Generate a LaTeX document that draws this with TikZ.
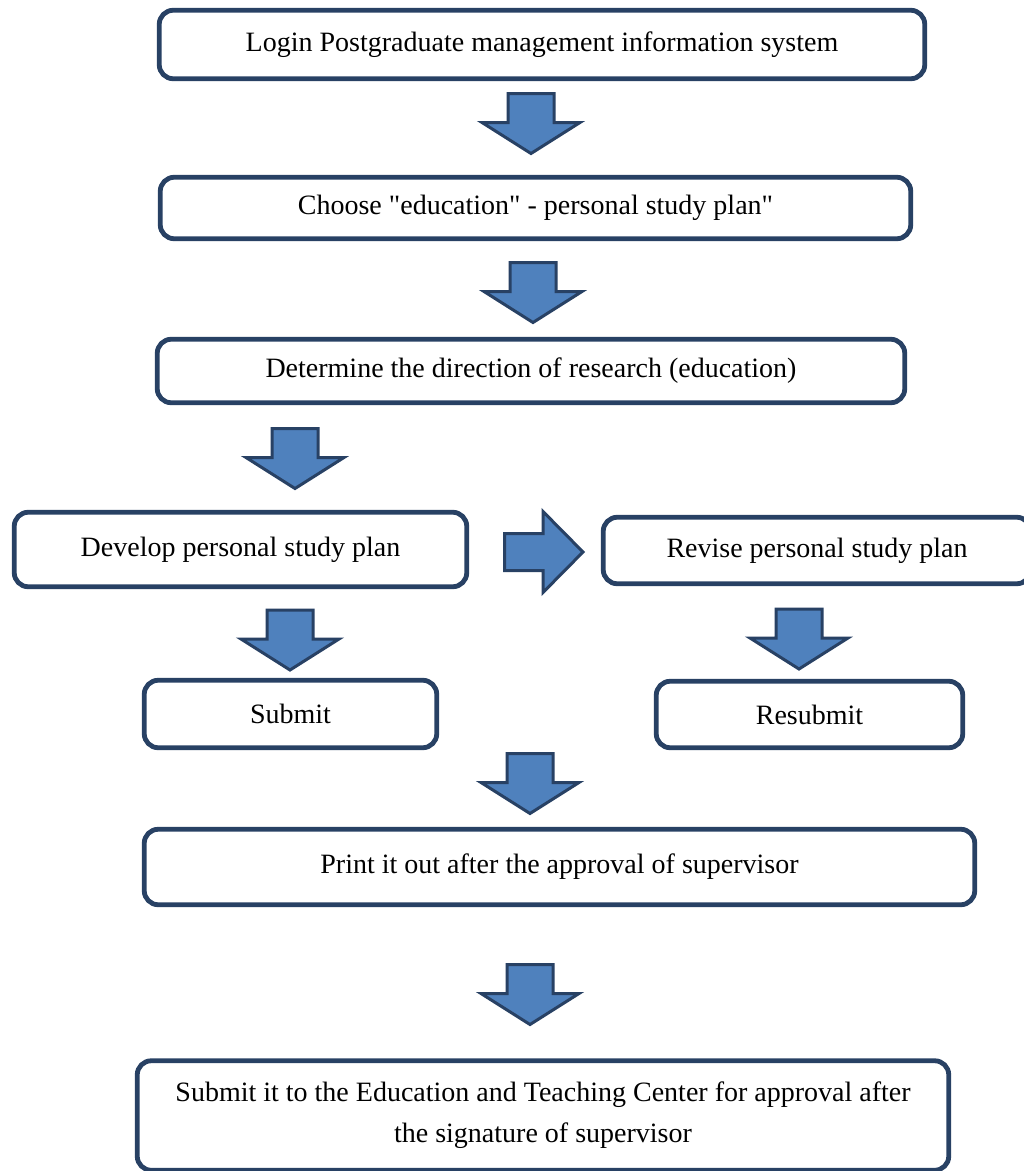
\documentclass[tikz,border=0pt]{standalone}
\usepackage{fontspec}
\setmainfont{Liberation Serif}[Ligatures=TeXOff]
\definecolor{edge}{RGB}{40,65,100}
\definecolor{afill}{RGB}{79,129,189}
\tikzset{
  box/.style={draw=edge, line width=4.8pt, rounded corners=14pt, fill=white,
    align=center, inner sep=0pt, font=\fontsize{28}{41}\selectfont},
  arrowshape/.style={draw=edge, fill=afill, line width=3pt, line join=miter},
  darr/.pic={\path[arrowshape] (-23,0) -- (23,0) -- (23,29) -- (49,29) -- (0,60) -- (-49,29) -- (-23,29) -- cycle;},
  rarr/.pic={\path[arrowshape] (0,-18.5) -- (38.5,-18.5) -- (38.5,-40.5) -- (78.5,0) -- (38.5,40.5) -- (38.5,18.5) -- (0,18.5) -- cycle;}
}
\begin{document}
\begin{tikzpicture}[x=1pt,y=-1pt]
\useasboundingbox[fill=white] (0,0) rectangle (1024,1171);
\begin{scope}
\clip (0,0) rectangle (1024,1171);
\node[box, minimum width=765.5pt, minimum height=68.5pt] (b1) at (542,44.5) {Login Postgraduate management information system};
\node[box, minimum width=750.5pt, minimum height=61.5pt] (b2) at (535.5,208) {Choose "education" - personal study plan"};
\node[box, minimum width=747.5pt, minimum height=63.5pt] (b3) at (531,371) {Determine the direction of research (education)};
\node[box, minimum width=452.5pt, minimum height=74.5pt] (b4) at (240.5,549.5) {Develop personal study plan};
\node[box, minimum width=427.5pt, minimum height=66.5pt] (b5) at (817,550.5) {Revise personal study plan};
\node[box, minimum width=292.5pt, minimum height=67.5pt] (b6) at (290.5,714) {Submit};
\node[box, minimum width=306.5pt, minimum height=66.5pt] (b7) at (809.5,714.5) {Resubmit};
\node[box, minimum width=830.5pt, minimum height=75.5pt] (b8) at (559.5,867) {Print it out after the approval of supervisor};
\node[box, minimum width=811.5pt, minimum height=109.5pt] (b9) at (543,1115.5) {Submit it to the Education and Teaching Center for approval after\\the signature of supervisor};
\end{scope}
\pic at (531,93.5) {darr};
\pic at (533,262.5) {darr};
\pic at (295,428.5) {darr};
\pic at (290,610) {darr};
\pic at (799,609) {darr};
\pic at (530,753.5) {darr};
\pic at (530,964.5) {darr};
\pic at (504.5,552) {rarr};
\end{tikzpicture}
\end{document}
